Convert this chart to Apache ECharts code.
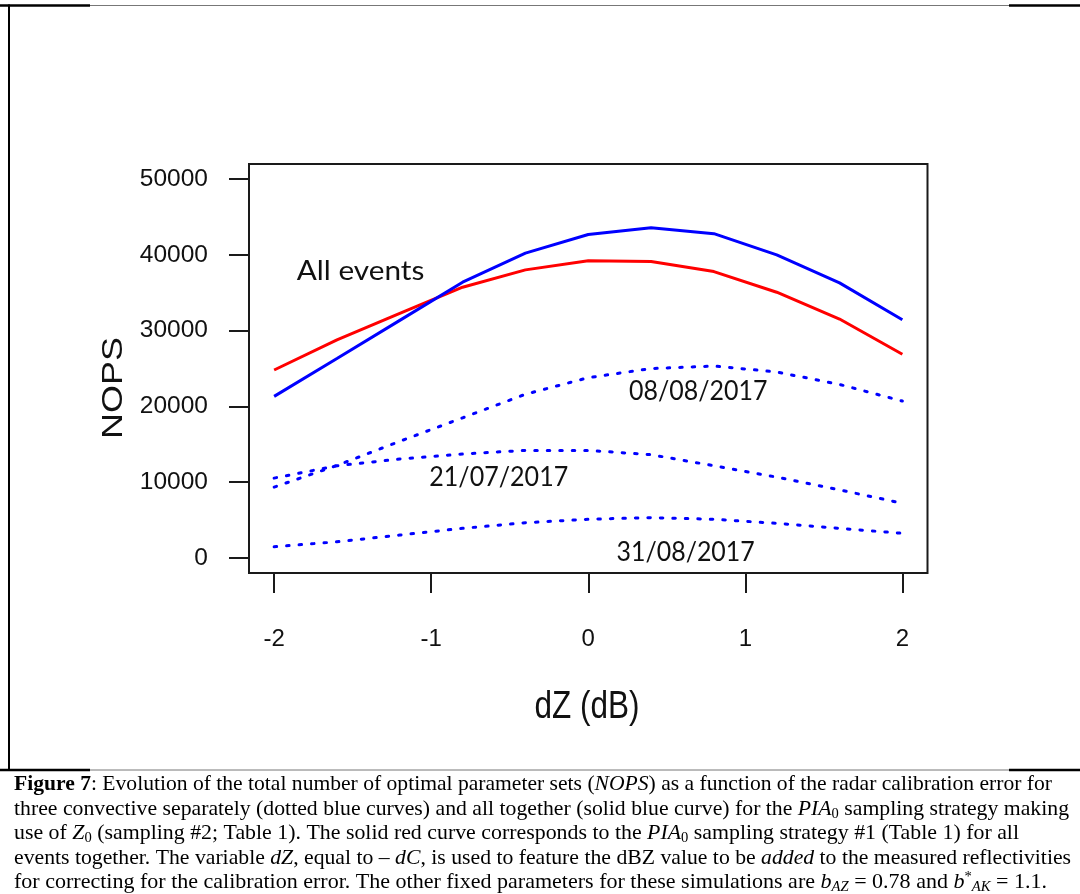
<!DOCTYPE html>
<html>
<head>
<meta charset="utf-8">
<script src="https://cdn.jsdelivr.net/npm/echarts@6/dist/echarts.min.js"></script>
<style>
html,body{margin:0;padding:0;background:#ffffff;}
#chart{width:1080px;height:894px;}
</style>
</head>
<body>
<div id="chart"></div>
<script>
// ---------------- data ----------------
const dZ = [-2, -1.6, -1.2, -0.8, -0.4, 0, 0.4, 0.8, 1.2, 1.6, 2];
const allEventsBlue = [21320, 26310, 31350, 36390, 40240, 42700, 43590, 42800, 40010, 36300, 31430];
const allEventsRed  = [24800, 28780, 32280, 35730, 38020, 39220, 39120, 37800, 35070, 31530, 26880];
const event0808 = [9340, 12200, 15390, 18490, 21600, 23790, 24990, 25330, 24540, 22900, 20700];
const event2107 = [10530, 12160, 13050, 13710, 14190, 14190, 13620, 12160, 10660, 8980, 7210];
const event3108 = [1460, 2120, 3010, 3900, 4640, 5100, 5310, 5090, 4560, 3900, 3240];
const xTickValues = [-2, -1, 0, 1, 2];
const yTickValues = [0, 10000, 20000, 30000, 40000, 50000];
const curveLabels = ['All events', '08/08/2017', '21/07/2017', '31/08/2017'];
const curveLabelAnchors = [[-1.45, 37950], [0.70, 22100], [-0.57, 10700], [0.62, 760]];
const xTitle = 'dZ (dB)';
const yTitle = 'NOPS';
const captionLines = [
  [['b','Figure 7'],['n',': Evolution of the total number of optimal parameter sets ('],['i','NOPS'],['n',') as a function of the radar calibration error for']],
  [['n','three convective separately (dotted blue curves) and all together (solid blue curve) for the '],['m','PIA'],['sub','0'],['n',' sampling strategy making']],
  [['n','use of '],['m','Z'],['sub','0'],['n',' (sampling #2; Table 1). The solid red curve corresponds to the '],['m','PIA'],['sub','0'],['n',' sampling strategy #1 (Table 1) for all']],
  [['n','events together. The variable '],['m','dZ'],['n',', equal to \u2013 '],['m','dC'],['n',', is used to feature the dBZ value to be '],['i','added'],['n',' to the measured reflectivities']],
  [['n','for correcting for the calibration error. The other fixed parameters for these simulations are '],['m','b'],['msub','AZ'],['n',' = 0.78 and '],['m','b'],['sup','*'],['msub','AK'],['n',' = 1.1.']]
];

// ---------------- helpers ----------------
const pair = arr => dZ.map((x, i) => [x, arr[i]]);
const cv = document.createElement('canvas').getContext('2d');
function textW(font, t) { cv.font = font; return cv.measureText(t).width; }

const SERIF = '"Liberation Serif", "Times New Roman", serif';
const SANS = '"Liberation Sans", Arial, sans-serif';
const ANNO = 'Lato, "Open Sans", sans-serif';

const chart = echarts.init(document.getElementById('chart'), null, {renderer: 'canvas'});

const dotted = {width: 3, color: '#0000ff', type: [2.5, 10], cap: 'round'};
const tickStyle = {color: '#1a1a1a', width: 2};

chart.setOption({
  animation: false,
  backgroundColor: '#ffffff',
  grid: {
    left: 249, top: 164, width: 678.5, height: 409,
    show: true, borderColor: '#1a1a1a', borderWidth: 2,
    backgroundColor: 'transparent',
    containLabel: false, outerBoundsMode: 'none'
  },
  xAxis: {
    type: 'value', min: -2.16, max: 2.16,
    axisLine: {show: false, onZero: false},
    splitLine: {show: false},
    axisTick: {show: true, inside: false, length: 20, customValues: xTickValues, lineStyle: tickStyle},
    axisLabel: {
      customValues: xTickValues, margin: 54, fontSize: 24, fontFamily: SANS, color: '#111',
      formatter: v => String(v)
    }
  },
  yAxis: {
    type: 'value', min: -2000, max: 52000,
    axisLine: {show: false, onZero: false},
    splitLine: {show: false},
    axisTick: {show: true, inside: false, length: 20, customValues: yTickValues, lineStyle: tickStyle},
    axisLabel: {
      customValues: yTickValues, margin: 41, fontSize: 24.5, fontFamily: SANS, color: '#111',
      formatter: v => String(v)
    }
  },
  series: [
    {name: '31/08/2017', type: 'line', data: pair(event3108), showSymbol: false, symbol: 'none', lineStyle: dotted, z: 2},
    {name: '21/07/2017', type: 'line', data: pair(event2107), showSymbol: false, symbol: 'none', lineStyle: dotted, z: 2},
    {name: '08/08/2017', type: 'line', data: pair(event0808), showSymbol: false, symbol: 'none', lineStyle: dotted, z: 2},
    {name: 'All events (#1)', type: 'line', data: pair(allEventsRed), showSymbol: false, symbol: 'none',
      lineStyle: {width: 3, color: '#ff0000'}, z: 3},
    {name: 'All events (#2)', type: 'line', data: pair(allEventsBlue), showSymbol: false, symbol: 'none',
      lineStyle: {width: 3, color: '#0000ff'}, z: 4}
  ]
});

// ---------------- texts & frame ----------------
const graphics = [];

// frame lines (table borders)
function hline(y) {
  graphics.push({type: 'line', shape: {x1: 0, y1: y, x2: 1080, y2: y}, style: {stroke: '#777', lineWidth: 1}});
  graphics.push({type: 'line', shape: {x1: 0, y1: y, x2: 90, y2: y}, style: {stroke: '#000', lineWidth: 2.5}});
  graphics.push({type: 'line', shape: {x1: 1009, y1: y, x2: 1080, y2: y}, style: {stroke: '#000', lineWidth: 2.5}});
}
hline(5.5);
hline(770);
graphics.push({type: 'line', shape: {x1: 9, y1: 4.5, x2: 9, y2: 771}, style: {stroke: '#000', lineWidth: 2}});

// curve annotations
const annoTargetW = [127.6, 138.4, 139, 138.3];
curveLabels.forEach((t, i) => {
  const p = chart.convertToPixel({gridIndex: 0}, curveLabelAnchors[i]);
  const font = '26px ' + ANNO;
  const sx = annoTargetW[i] / textW(font, t);
  graphics.push({
    type: 'text', x: p[0], y: p[1] + 1, scaleX: sx, z: 10,
    style: {text: t, font: font, fill: '#111', align: 'center', verticalAlign: 'middle',
            textAlign: 'center', textVerticalAlign: 'middle'}
  });
});

// axis titles
{
  const font = '38px ' + SANS;
  const sx = 105 / textW(font, xTitle);
  graphics.push({type: 'text', x: 587, y: 707.5, scaleX: sx,
    style: {text: xTitle, font: font, fill: '#111', align: 'center', verticalAlign: 'middle',
            textAlign: 'center', textVerticalAlign: 'middle'}});
}
{
  const font = '29px ' + SANS;
  const sx = 102 / textW(font, yTitle);
  graphics.push({type: 'text', x: 114, y: 388, rotation: Math.PI / 2, scaleX: sx,
    style: {text: yTitle, font: font, fill: '#111', align: 'center', verticalAlign: 'middle',
            textAlign: 'center', textVerticalAlign: 'middle'}});
}

// caption
const FS = 21;
const rich = {
  n:    {fontFamily: SERIF, fontSize: FS, lineHeight: 24, fill: '#000'},
  b:    {fontFamily: SERIF, fontSize: FS, lineHeight: 24, fill: '#000', fontWeight: 'bold'},
  i:    {fontFamily: SERIF, fontSize: FS, lineHeight: 24, fill: '#000', fontStyle: 'italic'},
  m:    {fontFamily: SERIF, fontSize: FS, lineHeight: 24, fill: '#000', fontStyle: 'italic'},
  sub:  {fontFamily: SERIF, fontSize: 14, lineHeight: 10, fill: '#000', verticalAlign: 'bottom'},
  msub: {fontFamily: SERIF, fontSize: 14, lineHeight: 10, fill: '#000', fontStyle: 'italic', verticalAlign: 'bottom'},
  sup:  {fontFamily: SERIF, fontSize: 14, lineHeight: 14, fill: '#000', verticalAlign: 'top'}
};
function tokFont(s) {
  const r = rich[s];
  return (r.fontStyle || 'normal') + ' ' + (r.fontWeight || 'normal') + ' ' + r.fontSize + 'px ' + SERIF;
}
const capBaselines = [791, 815.5, 840, 864.5, 889];
const capRight = [1052, 1069, 1019, 1071, 1047];
const capLeft = 14;
captionLines.forEach((toks, i) => {
  let w = 0;
  toks.forEach(([s, t]) => { w += textW(tokFont(s), t); });
  const sx = (capRight[i] - capLeft) / w;
  const txt = toks.map(([s, t]) => '{' + s + '|' + t + '}').join('');
  graphics.push({
    type: 'text', x: capLeft, y: capBaselines[i] - 18.4, scaleX: sx,
    style: {text: txt, rich: rich, align: 'left', verticalAlign: 'top', textAlign: 'left', textVerticalAlign: 'top'}
  });
});

chart.setOption({graphic: graphics});
</script>
</body>
</html>
